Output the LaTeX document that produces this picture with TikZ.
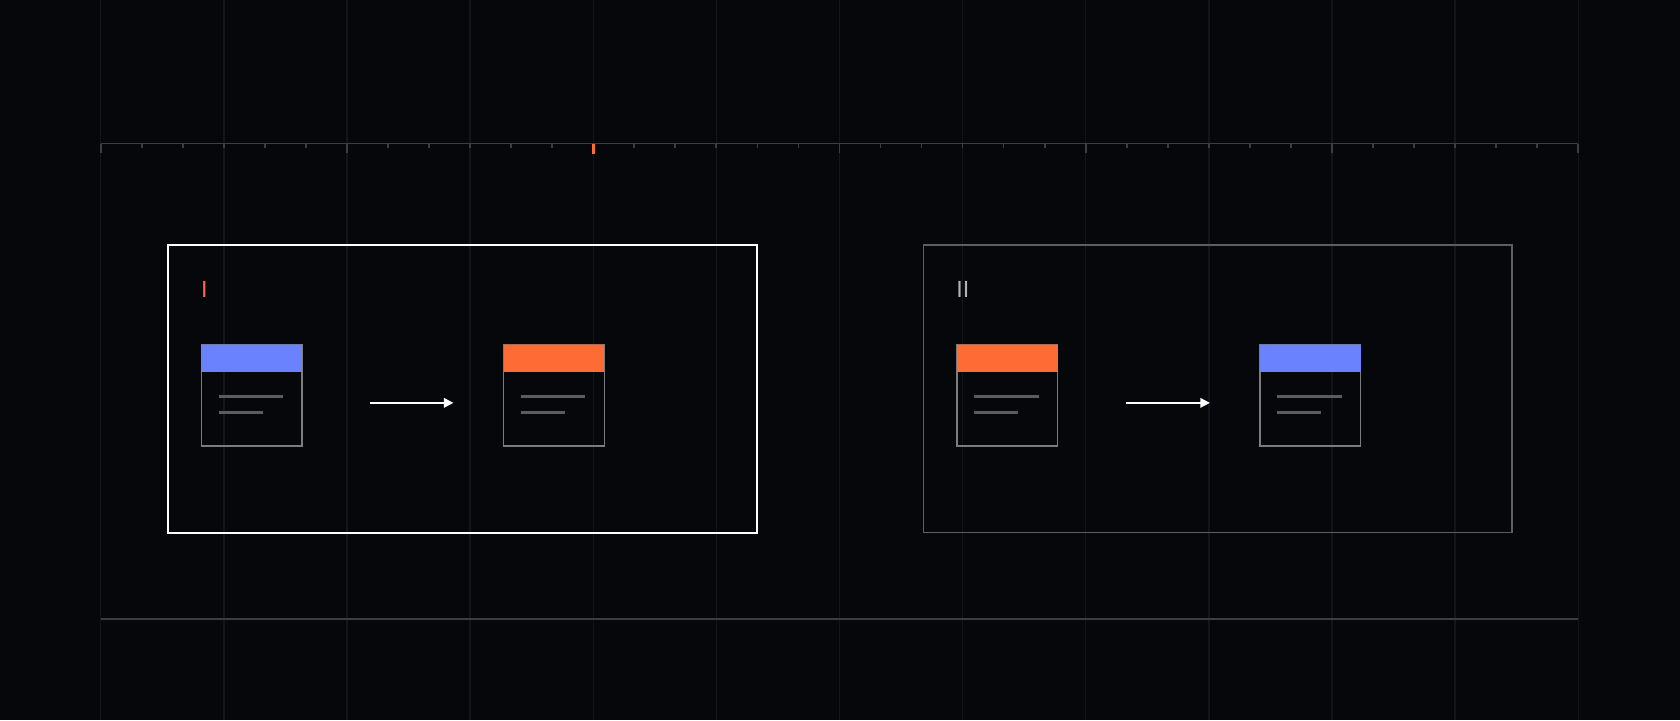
\documentclass[tikz,border=0pt]{standalone}
\usepackage{fontspec}
\setsansfont{Liberation Sans}
\usepackage{xcolor}
\usepackage{tikz}
\usetikzlibrary{
  arrows.meta,
  positioning,
  calc
}
\definecolor{bgdark}{HTML}{05070B}
\definecolor{gridcol}{HTML}{121519}
\definecolor{rulercol}{HTML}{3A3D42}
\definecolor{accblue}{HTML}{6B82FF}
\definecolor{accorange}{HTML}{FF6B35}
\definecolor{cardedge}{HTML}{7C7C7C}
\definecolor{stubcol}{HTML}{5C5C5C}
\definecolor{frametwo}{HTML}{5E5E5E}

\begin{document}
\begin{tikzpicture}[
  x=0.01cm, y=-0.01cm,
  gridline/.style={draw=gridcol, line width=0.35pt},
  ruler/.style={draw=rulercol, line width=0.45pt},
  framebox/.style={draw, minimum width=5.49cm, minimum height=2.68cm, inner sep=0pt},
  card/.style={draw=cardedge, line width=0.4pt, minimum width=0.94cm, minimum height=0.94cm, inner sep=0pt},
  cardhead/.style={minimum width=0.94cm, minimum height=0.25cm, inner sep=0pt, anchor=north},
  stub/.style={draw=stubcol, line width=0.8pt},
  flow/.style={draw=white, line width=0.45pt, -{Triangle[length=0.09cm, width=0.09cm]}},
  stagelbl/.style={font=\sffamily\fontsize{6.2}{7}\selectfont, inner sep=0pt, anchor=west},
]
  \fill[bgdark] (0,0) rectangle (1568,672);
  \useasboundingbox (0,0) rectangle (1568,672);

  % Grid and ruler
  \foreach \i in {0,...,12}
    \draw[gridline] (94+\i*114.92,0) -- ++(0,672);
  \coordinate (rulerL) at (94,134);
  \coordinate (rulerR) at (1473,134);
  \draw[ruler] (rulerL) -- (rulerR);
  \foreach \i in {0,...,36} {
    \pgfmathsetmacro{\ticklen}{ifthenelse(mod(\i,6)==0,9,4)}
    \draw[ruler] ($(rulerL)+(\i*38.306,0)$) -- ++(0,\ticklen);
  }
  \draw[draw=accorange, line width=0.85pt] ($(rulerL)+(12*38.306,0)$) -- ++(0,10);
  \coordinate (baseL) at (94,578);
  \coordinate (baseR) at (1473,578);
  \draw[ruler] (baseL) -- (baseR);

  % Stage I
  \node[framebox, draw=white, line width=0.5pt] (stageI) at (431.5,363) {};
  \node[stagelbl, text=accorange] (lblI) at (187,270) {I};
  \node[card] (srcA) at (235,369) {};
  \node[cardhead, fill=accblue] (srcAhead) at (srcA.north) {};
  \node[card] (dstA) at (517,369) {};
  \node[cardhead, fill=accorange] (dstAhead) at (dstA.north) {};
  \draw[flow, shorten <=0.63cm, shorten >=0.46cm]
    ([yshift=-0.07cm]srcA.east) -- ([yshift=-0.07cm]dstA.west);

  % Stage II
  \node[framebox, draw=frametwo, line width=0.45pt] (stageII) at (1136.5,363) {};
  \node[stagelbl, text=white!70!black] (lblII) at (892,270) {II};
  \node[card] (srcB) at (940,369) {};
  \node[cardhead, fill=accorange] (srcBhead) at (srcB.north) {};
  \node[card] (dstB) at (1223,369) {};
  \node[cardhead, fill=accblue] (dstBhead) at (dstB.north) {};
  \draw[flow, shorten <=0.63cm, shorten >=0.46cm]
    ([yshift=-0.07cm]srcB.east) -- ([yshift=-0.07cm]dstB.west);

  % Text stubs inside the cards
  \foreach \c in {srcA,dstA,srcB,dstB} {
    \draw[stub] ([xshift=0.17cm, yshift=-0.49cm]\c.north west) -- ++(60,0);
    \draw[stub] ([xshift=0.17cm, yshift=-0.64cm]\c.north west) -- ++(41,0);
  }
\end{tikzpicture}
\end{document}
